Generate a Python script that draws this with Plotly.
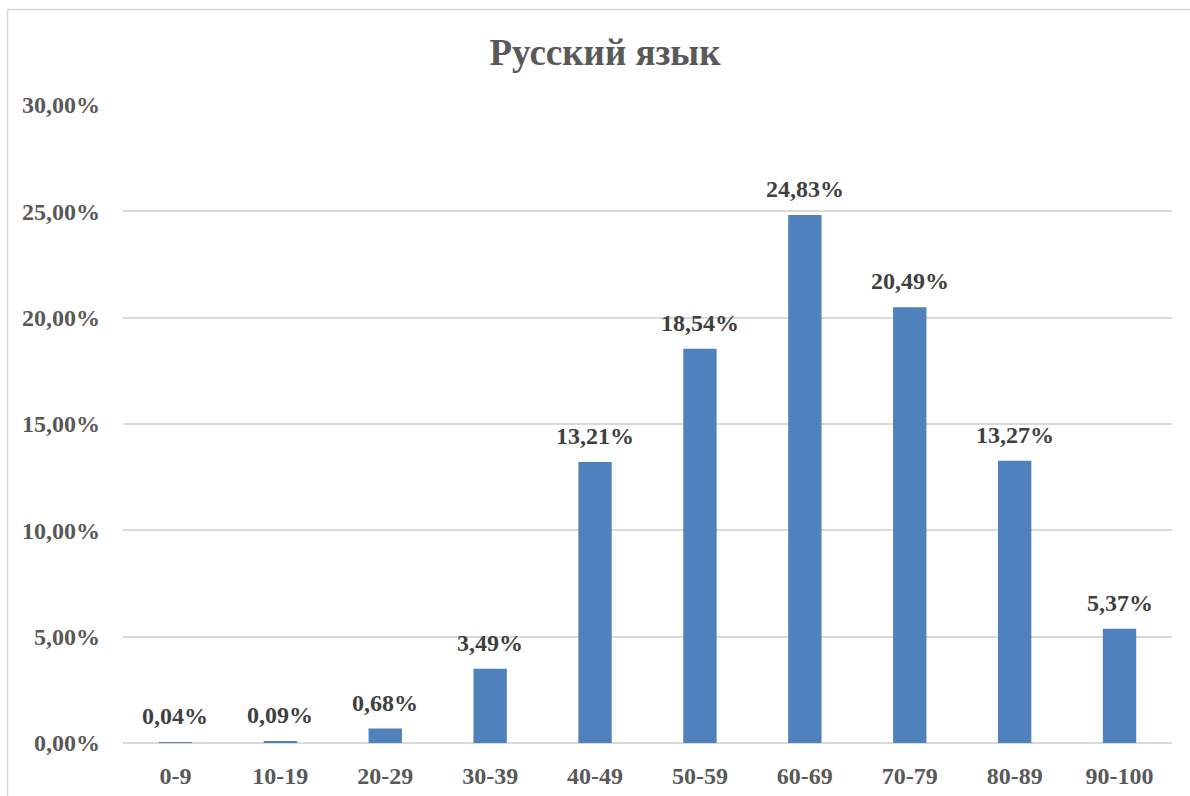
import plotly.graph_objects as go

categories = ["0-9", "10-19", "20-29", "30-39", "40-49", "50-59", "60-69", "70-79", "80-89", "90-100"]
values = [0.04, 0.09, 0.68, 3.49, 13.21, 18.54, 24.83, 20.49, 13.27, 5.37]
labels = ["0,04%", "0,09%", "0,68%", "3,49%", "13,21%", "18,54%", "24,83%", "20,49%", "13,27%", "5,37%"]
tick_vals = [0, 5, 10, 15, 20, 25, 30]
tick_text = ["0,00%", "5,00%", "10,00%", "15,00%", "20,00%", "25,00%", "30,00%"]

gray = "#595959"
font_family = "Liberation Serif, Times New Roman, serif"

fig = go.Figure(go.Bar(
    x=categories, y=values,
    marker=dict(color="#4F81BD", line=dict(width=0)),
    hoverinfo="skip",
))

annotations = [
    dict(x=c, y=v, xref="x", yref="y", text="<b>%s</b>" % t, showarrow=False,
         xanchor="center", yanchor="bottom", yshift=11,
         font=dict(family=font_family, size=24, color="#404040"))
    for c, v, t in zip(categories, values, labels)
]

L, R, T, B = 123, 18, 105, 53
W, H = 1190, 796
pw, ph = W - L - R, H - T - B

fig.update_layout(
    width=W, height=H,
    margin=dict(l=L, r=R, t=T, b=B),
    paper_bgcolor="white", plot_bgcolor="white",
    bargap=0.682,
    showlegend=False,
    title=dict(text="<b>Русский язык</b>", x=605 / W, xref="container", xanchor="center",
               y=1 - 52 / H, yref="container", yanchor="middle",
               font=dict(family=font_family, size=37, color=gray)),
    font=dict(family=font_family, color=gray),
    xaxis=dict(showgrid=False, showline=False, ticks="", automargin=False,
               ticklabelstandoff=16,
               tickfont=dict(family=font_family, size=24, color=gray),
               tickprefix="<b>", ticksuffix="</b>"),
    yaxis=dict(range=[0, 30], tickvals=tick_vals, ticktext=["<b>%s</b>" % t for t in tick_text],
               showgrid=True, gridcolor="#D9D9D9", gridwidth=1.5, zeroline=True,
               zerolinecolor="#D9D9D9", zerolinewidth=1.5, showline=False, ticks="",
               automargin=False, ticklabelstandoff=22,
               tickfont=dict(family=font_family, size=24, color=gray)),
    annotations=annotations,
    shapes=[
        dict(type="line", xref="paper", yref="paper",
             x0=(7.5 - L) / pw, x1=(7.5 - L) / pw, y0=(H - B - 9.5) / ph, y1=-0.2,
             line=dict(color="#D9D9D9", width=1.5)),
        dict(type="line", xref="paper", yref="paper",
             x0=(7.5 - L) / pw, x1=1.1, y0=(H - B - 9.5) / ph, y1=(H - B - 9.5) / ph,
             line=dict(color="#D9D9D9", width=1.5)),
    ],
)

fig.write_html("out.html", config={"displayModeBar": False},
               post_script="document.body.style.margin='0px';")
